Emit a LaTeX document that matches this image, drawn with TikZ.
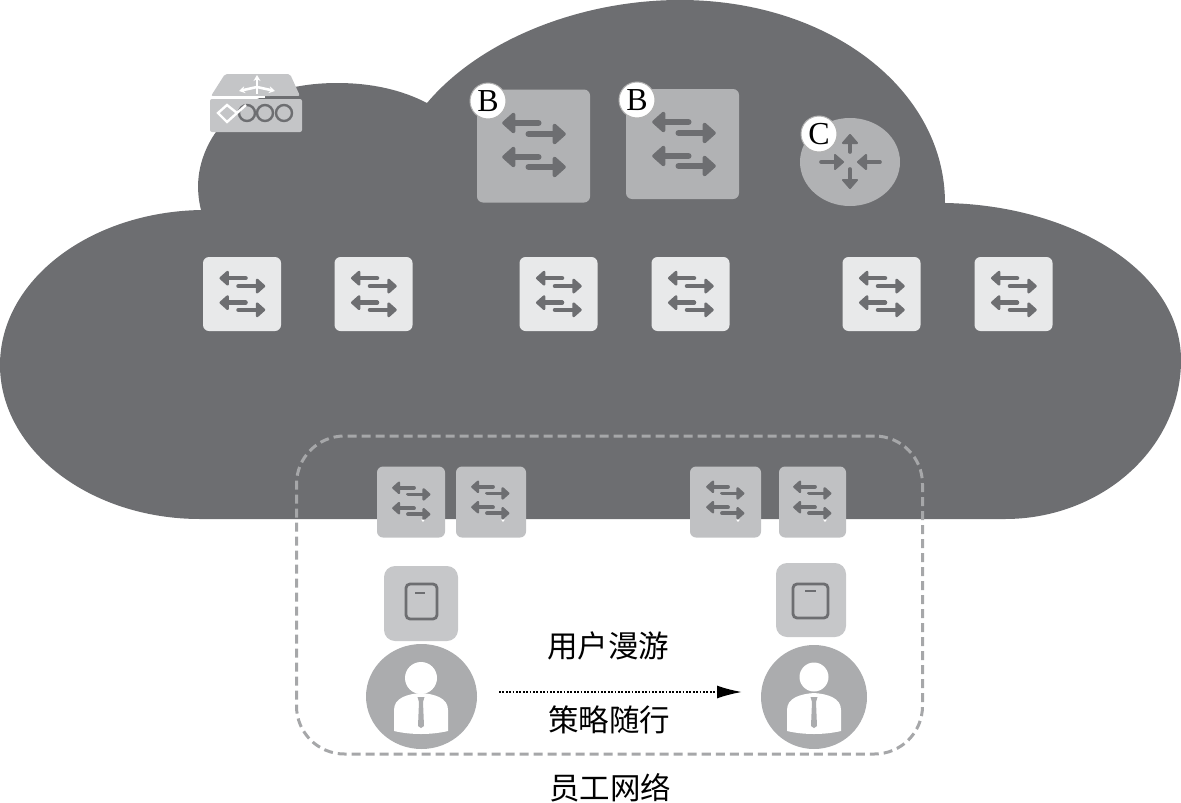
\documentclass[tikz,border=0pt]{standalone}
\usepackage{fontspec}
\setmainfont{Liberation Serif}
\newfontfamily\cjk{Noto Sans CJK SC}
\usetikzlibrary{arrows.meta,shapes.geometric}
\definecolor{cloudc}{HTML}{6D6E71}
\definecolor{bigc}{HTML}{B1B2B4}
\definecolor{lightc}{HTML}{E8E9EA}
\definecolor{lowc}{HTML}{C0C1C3}
\definecolor{devc}{HTML}{C6C7C9}
\definecolor{personc}{HTML}{ABACAE}
\definecolor{dashc}{HTML}{A6A7A9}
\definecolor{routerc}{HTML}{C4C5C7}
\tikzset{
  x=1pt,y=-1pt,
  boxnode/.style={draw=none,rounded corners=6pt,inner sep=0pt},
  bigbox/.style={boxnode,fill=bigc,minimum width=113pt,minimum height=113pt},
  smallbox/.style={boxnode,fill=lightc,minimum width=78pt,minimum height=74pt},
  lowbox/.style={boxnode,fill=lowc,minimum height=71pt},
  devbox/.style={boxnode,fill=devc,rounded corners=11pt},
  badge/.style={circle,fill=white,draw=black!30,line width=1pt,minimum size=36pt,inner sep=0pt,font=\fontsize{32}{32}\selectfont},
  roam/.style={font=\cjk\fontsize{30.5}{30.5}\selectfont,inner sep=0pt},
  personbg/.style={ellipse,fill=personc,inner sep=0pt},
  arrline/.style={cloudc,line cap=round,line join=round},
}
% switch glyph: centre x, centre y, scale, stroke width
\newcommand{\swglyph}[4]{%
  \begin{scope}[shift={(#1,#2)},x=#3pt,y=-#3pt,arrline,line width=#4pt]
    \foreach \ya/\yb in {-22/-11,12/22}{
      \draw (5,\ya)--(-24,\ya);
      \filldraw[line width=0.6*#4pt] (-20,\ya-8.5)--(-29.5,\ya)--(-20,\ya+8.5)--cycle;
      \draw (-5,\yb)--(25,\yb);
      \filldraw[line width=0.6*#4pt] (21,\yb-8.5)--(30.5,\yb)--(21,\yb+8.5)--cycle;
    }
  \end{scope}}
\newcommand{\personglyph}[5]{% cx, head y, head r, body half width, tie x
  \fill[white] (#1,#2) circle[radius=#3];
  \fill[white] (#1-#4,710) .. controls (#1-#4,698) and (#1-14,694) .. (#1,693)
     .. controls (#1+14,694) and (#1+#4,698) .. (#1+#4,710) -- (#1+#4,731)
     .. controls (#1+10,735) and (#1-10,735) .. (#1-#4,731) -- cycle;
  \fill[personc] (#1-3.5,697) -- (#1+3.5,697) -- (#1+2,702) -- (#1+3,726) -- (#1,728) -- (#1-3,726) -- (#1-2,702) -- cycle;
}
\begin{document}
\begin{tikzpicture}
\useasboundingbox (0,0) rectangle (1181,803);
% cloud
\fill[cloudc] (200,519) .. controls (90,519) and (0,450) .. (0,365)
  .. controls (0,280) and (90,212) .. (201,210)
  .. controls (196,190) and (196,165) .. (212,138)
  .. controls (235,100) and (285,83) .. (337,83)
  .. controls (372,83) and (402,90) .. (427,103)
  .. controls (480,40) and (580,0) .. (680,0)
  .. controls (830,0) and (945,90) .. (945,203)
  .. controls (1070,205) and (1181,270) .. (1181,360)
  .. controls (1181,450) and (1100,519) .. (1005,519) -- cycle;
% router icon
\fill[routerc,rounded corners=2pt] (225,74) -- (290,74) -- (300,96) -- (211,96) -- cycle;
\fill[routerc,rounded corners=2pt] (210,99) rectangle (302,132);
\draw[cloudc,line width=1.2pt] (270,96.5) -- (300,96.5);
\draw[white,line width=1.5pt] (211,97) -- (265,97);
\begin{scope}[white,line width=2.6pt,line join=round]
  \draw[-{Stealth[length=6pt,width=7pt]}] (257,94) -- (257,75);
  \draw[-{Stealth[length=6pt,width=7pt]}] (257,87) -- (239,91);
  \draw[-{Stealth[length=6pt,width=7pt]}] (257,87) -- (275,91);
\end{scope}
\begin{scope}[line width=2.4pt]
  \draw[white] (218,113) -- (227,105) -- (237,113) -- (227,122) -- cycle;
  \draw[cloudc] (247,113) circle[radius=8];
  \draw[cloudc] (265,113) circle[radius=8];
  \draw[cloudc] (284,113) circle[radius=8];
  \draw[white] (237,113) -- (246,105);
\end{scope}
% upper switches
\node[bigbox] (b1) at (533.5,146) {};
\node[bigbox,minimum height=110pt] (b2) at (682.5,144) {};
\node[ellipse,fill=bigc,minimum width=100pt,minimum height=88pt,inner sep=0pt] (c1) at (850,162) {};
\swglyph{533.5}{145}{1}{6}
\swglyph{683.5}{144}{1}{6}
\begin{scope}[arrline,line width=3.6pt]
  \draw (850,152) -- (850,140);
  \filldraw[line width=2pt] (843,143) -- (850,135) -- (857,143) -- cycle;
  \draw (850,169) -- (850,183);
  \filldraw[line width=2pt] (843,180) -- (850,188) -- (857,180) -- cycle;
  \draw (821,162) -- (838,162);
  \filldraw[line width=2pt] (835,155) -- (843,162) -- (835,169) -- cycle;
  \draw (880,162) -- (863,162);
  \filldraw[line width=2pt] (866,155) -- (858,162) -- (866,169) -- cycle;
\end{scope}
\node[badge] (bb1) at (488,101) {B};
\node[badge] (bb2) at (637,100) {B};
\node[badge] (bc) at (819,134) {C};
% middle row
\foreach \n/\cx in {m1/242,m2/373.5,m3/558.5,m4/690.5,m5/881.5,m6/1013.5}{
  \node[smallbox] (\n) at (\cx,294) {};
  \swglyph{\cx}{294}{0.72}{4.3}
}
% lower switches
\node[lowbox,minimum width=68pt] (l1) at (411,502) {};
\node[lowbox,minimum width=70pt] (l2) at (491,502) {};
\node[lowbox,minimum width=71pt] (l3) at (725.5,502) {};
\node[lowbox,minimum width=67pt] (l4) at (812.5,502) {};
\swglyph{411}{501}{0.6}{3.8}
\swglyph{490}{500}{0.6}{3.8}
\swglyph{725}{500}{0.6}{3.8}
\swglyph{812}{500}{0.6}{3.8}
\foreach \x in {423,503,738,825}{\fill[white] (\x-2,519.5) -- (\x+2,519.5) -- (\x,522) -- cycle;}
% devices
\node[devbox,minimum width=74pt,minimum height=75pt] (d1) at (421,603.5) {};
\node[devbox,minimum width=70pt,minimum height=74pt] (d2) at (811,600) {};
\draw[cloudc,line width=2.8pt,rounded corners=4pt] (406,584) rectangle (437,619);
\draw[cloudc,line width=1.6pt] (415,593) -- (425,593);
\draw[cloudc,line width=2.8pt,rounded corners=4pt] (793,584) rectangle (828,618);
\draw[cloudc,line width=1.6pt] (805,591) -- (816,591);
% persons
\node[personbg,minimum width=111pt,minimum height=105pt] (p1) at (421.5,696.5) {};
\node[personbg,minimum width=106pt,minimum height=104pt] (p2) at (814,697) {};
\personglyph{421}{678}{16}{27}{421}
\personglyph{814}{677}{14.5}{27}{814}
% dashed group
\node[draw=dashc,line width=3pt,dash pattern=on 9pt off 5pt,rounded corners=48pt,minimum width=626pt,minimum height=318pt,inner sep=0pt] (grp) at (609.5,595) {};
% roaming
\coordinate (rs) at (499,692);
\coordinate (re) at (742,692);
\draw[black,line width=1.8pt,dash pattern=on 1.8pt off 1.6pt,-{Latex[length=25pt,width=13pt]}] (rs) -- (re);
\node[roam] (t1) at (608,646) {用户漫游};
\node[roam] (t2) at (609,720) {策略随行};
\node[roam] (t3) at (610,788) {员工网络};
\end{tikzpicture}
\end{document}
